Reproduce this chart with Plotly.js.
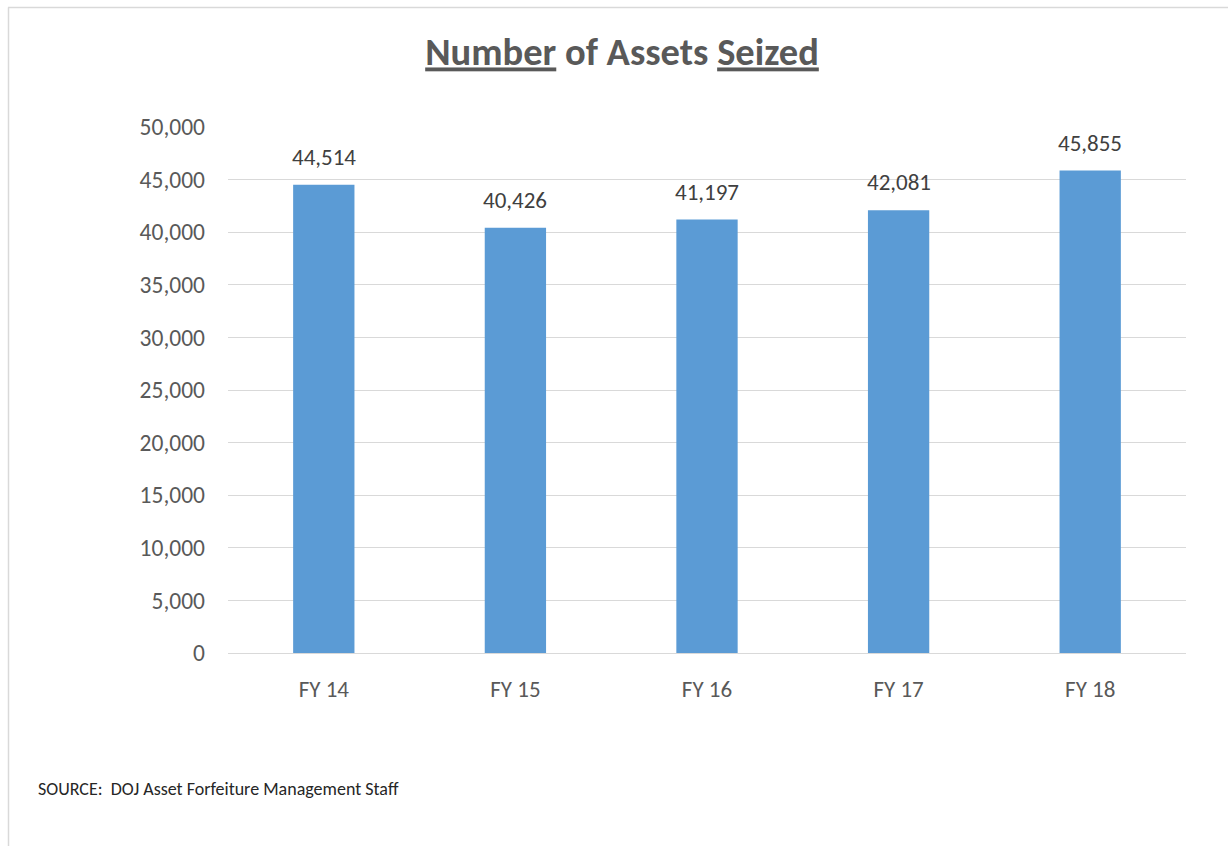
<!DOCTYPE html>
<html>
<head>
<meta charset="utf-8">
<script src="https://cdn.plot.ly/plotly-3.0.1.min.js"></script>
<style>
  html, body { margin: 0; padding: 0; background: #ffffff; }
  #chart { width: 1228px; height: 846px; }
</style>
</head>
<body>
<div id="chart"></div>
<script>
const categories = ["FY 14", "FY 15", "FY 16", "FY 17", "FY 18"];
const assetsSeized = [44514, 40426, 41197, 42081, 45855];
const yTickValues = [0, 5000, 10000, 15000, 20000, 25000, 30000, 35000, 40000, 45000, 50000];
const yTickLabels = ["0", "5,000", "10,000", "15,000", "20,000", "25,000", "30,000", "35,000", "40,000", "45,000", "50,000"];
const titleText = "<u>Number</u> of Assets <u>Seized</u>";
const sourceText = "SOURCE:  DOJ Asset Forfeiture Management Staff";

const FONT = "Carlito, Calibri, Lato, 'Open Sans', sans-serif";
const W = 1228, H = 846;
const L = 228, R = 42, T = 127, B = 193;
const pw = W - L - R, ph = H - T - B;
function px2paperX(x) { return (x - L) / pw; }
function px2paperY(y) { return (H - B - y) / ph; }

const fmt = v => v.toLocaleString("en-US");

const trace = {
  type: "bar",
  x: categories,
  y: assetsSeized,
  marker: { color: "#5b9bd5", line: { width: 0 } },
  width: 0.32,
  hoverinfo: "none"
};

const labelAnnotations = categories.map((c, i) => ({
  x: c, y: assetsSeized[i], xref: "x", yref: "y",
  text: fmt(assetsSeized[i]),
  showarrow: false, yanchor: "bottom", yshift: 12,
  font: { family: FONT, size: 23, color: "#404040" }
}));

const layout = {
  width: W, height: H,
  margin: { l: L, r: R, t: T, b: B, pad: 0 },
  paper_bgcolor: "#ffffff",
  plot_bgcolor: "#ffffff",
  showlegend: false,
  title: {
    text: titleText,
    font: { family: FONT, size: 38.5, color: "#595959", weight: "bold" },
    xref: "container", yref: "container",
    x: 622 / W, y: 1 - 52 / H, xanchor: "center", yanchor: "middle"
  },
  xaxis: {
    type: "category",
    showgrid: false,
    showline: false,
    zeroline: false,
    ticks: "",
    ticklabelstandoff: 20,
    tickfont: { family: FONT, size: 23, color: "#595959" },
    fixedrange: true
  },
  yaxis: {
    range: [0, 50000],
    tickmode: "array",
    tickvals: yTickValues,
    ticktext: yTickLabels,
    showgrid: true,
    gridcolor: "#d9d9d9",
    gridwidth: 1,
    zeroline: true,
    zerolinecolor: "#d9d9d9",
    zerolinewidth: 1,
    showline: false,
    ticks: "",
    ticklabelstandoff: 22,
    tickfont: { family: FONT, size: 23.5, color: "#595959" },
    fixedrange: true
  },
  annotations: labelAnnotations.concat([{
    xref: "paper", yref: "paper",
    x: px2paperX(36), y: px2paperY(789),
    xanchor: "left", yanchor: "middle",
    text: sourceText, showarrow: false,
    font: { family: FONT, size: 18, color: "#262626" }
  }]),
  shapes: [
    { type: "line", xref: "paper", yref: "paper",
      x0: px2paperX(8), x1: px2paperX(W), y0: px2paperY(7.5), y1: px2paperY(7.5),
      line: { color: "#d9d9d9", width: 1.5 } },
    { type: "line", xref: "paper", yref: "paper",
      x0: px2paperX(8.5), x1: px2paperX(8.5), y0: px2paperY(7.5), y1: px2paperY(H),
      line: { color: "#d9d9d9", width: 1.5 } }
  ]
};

Plotly.newPlot("chart", [trace], layout, { displayModeBar: false, staticPlot: true });
</script>
</body>
</html>
